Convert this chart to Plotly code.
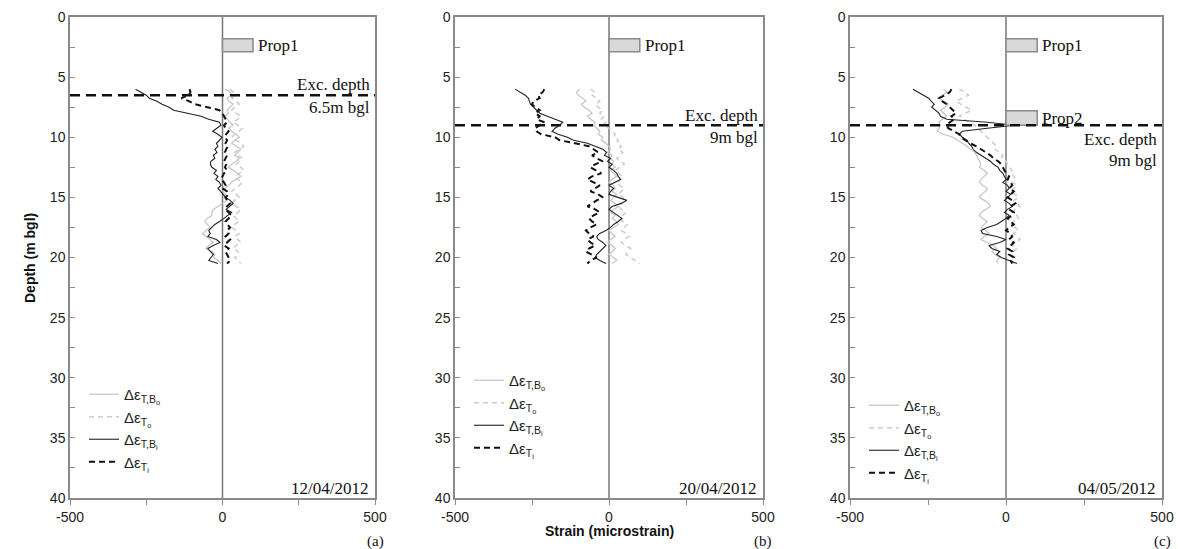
import plotly.graph_objects as go

# ---------------- data ----------------
depth = [6.0, 6.25, 6.5, 6.75, 7.0, 7.25, 7.5, 7.75, 8.0, 8.25, 8.5, 8.75, 9.0, 9.25, 9.5, 9.75,
         10.0, 10.25, 10.5, 10.75, 11.0, 11.25, 11.5, 11.75, 12.0, 12.25, 12.5, 12.75, 13.0, 13.25,
         13.5, 13.75, 14.0, 14.25, 14.5, 14.75, 15.0, 15.25, 15.5, 15.75, 16.0, 16.25, 16.5, 16.75,
         17.0, 17.25, 17.5, 17.75, 18.0, 18.25, 18.5, 18.75, 19.0, 19.25, 19.5, 19.75, 20.0, 20.25, 20.5]

# Panel (a) 12/04/2012
a_TBo = [10, 25, 30, 15, 20, 35, 25, 15, 20, 10, 15, 25, 35, 20, 30, 45,
         55, 40, 30, 45, 60, 50, 40, 55, 45, 30, 20, 35, 50, 60,
         45, 30, 20, 10, 0, 10, 5, 15, 0, -15, -30, -35, -35, -50,
         -58, -50, -40, -55, -65, -55, -40, -30, -45, -55, -35, -25, -30, -15, -5]
a_To = [25, 35, 40, 30, 45, 55, 40, 30, 45, 60, 50, 35, 50, 65, 55, 40,
        30, 45, 60, 70, 55, 40, 50, 65, 55, 45, 60, 70, 55, 40,
        50, 65, 55, 40, 30, 45, 55, 40, 30, 45, 60, 50, 35, 45,
        55, 40, 30, 45, 55, 40, 50, 60, 45, 35, 50, 55, 40, 50, 60]
a_TBi = [-285, -265, -250, -240, -215, -198, -175, -160, -110, -70, -45, -10, -5, -20, -32, -15,
         -2, -10, -20, -15, -25, -18, -30, -25, -38, -40, -35, -20, -28, -15,
         -22, -10, -5, -15, -8, 2, 10, 25, 35, 22, 12, 30, 18, 5,
         -10, -25, -35, -45, -40, -48, -20, -8, -30, -48, -40, -30, -38, -45, -15]
a_Ti = [-108, -105, -110, -135, -110, -90, -50, -10, 0, 5, 10, 15, 5, 10, 20, 12,
        8, 15, 10, 18, 12, 8, 15, 10, 5, 12, 8, 15, 5, 0,
        -5, 5, 10, 0, 15, 20, 10, 15, 25, 15, 10, 20, 30, 20,
        10, 15, 25, 15, 20, 10, 25, 15, 5, 20, 10, 15, 20, 25, 15]

# Panel (b) 20/04/2012
b_TBo = [-95, -105, -100, -85, -75, -90, -80, -65, -55, -70, -60, -45, -50, -40, -30, -35,
         -20, -25, -10, 0, 5, -5, 10, 5, 15, 10, 20, 5, 15, 25,
         10, 0, 15, 20, 10, 25, 15, 5, 20, 30, 15, 5, 20, 10,
         25, 30, 15, 0, 10, 20, 5, -5, 10, 20, 10, 0, 15, 25, 10]
b_To = [-60, -45, -55, -40, -30, -45, -35, -20, -30, -15, -25, -10, -20, 0, 10, 20,
        15, 30, 25, 40, 30, 45, 35, 25, 40, 50, 35, 20, 30, 45,
        40, 25, 35, 50, 40, 30, 45, 55, 40, 30, 40, 55, 45, 35,
        45, 60, 50, 40, 55, 65, 50, 40, 55, 70, 60, 55, 70, 85, 100]
b_TBi = [-305, -290, -272, -262, -258, -255, -245, -235, -225, -200, -175, -150, -160, -175, -185, -165,
         -135, -115, -70, -45, -20, -8, -15, 5, -5, 10, 0, 15, 25, 30,
         38, 20, 0, 15, 5, 0, 30, 58, 40, 10, 0, 15, 30, 42,
         30, 15, 5, -10, -30, -40, -35, -20, -10, -20, -30, -40, -45, -30, -10]
b_Ti = [-210, -215, -230, -225, -245, -250, -240, -225, -240, -225, -235, -210, -225, -240, -235, -220,
        -175, -160, -110, -65, -50, -35, -55, -40, -20, -45, -60, -40, -25, -55,
        -70, -50, -30, -45, -60, -35, -20, -40, -55, -70, -45, -30, -50, -65,
        -55, -40, -60, -75, -65, -50, -70, -60, -45, -65, -75, -55, -40, -60, -70]

# Panel (c) 04/05/2012
c_TBo = [-200, -190, -205, -215, -200, -185, -195, -210, -200, -190, -205, -215, -210, -215, -220, -200,
         -170, -155, -140, -125, -115, -100, -95, -90, -85, -80, -85, -70, -60, -70,
         -80, -85, -75, -60, -65, -80, -85, -70, -55, -50, -65, -80, -85, -75,
         -60, -70, -80, -65, -55, -70, -80, -60, -40, -30, -45, -35, -20, -30, -25]
c_To = [-150, -130, -120, -140, -160, -145, -125, -110, -130, -150, -135, -115, -100, -90, -80, -70,
        -60, -50, -40, -30, -35, -20, -10, -15, 0, 5, 10, 20, 15, 25,
        30, 20, 35, 25, 15, 30, 40, 25, 35, 45, 30, 20, 35, 40,
        25, 15, 30, 40, 25, 35, 45, 30, 20, 35, 25, 15, 30, 20, 25]
c_TBi = [-298, -280, -262, -248, -240, -230, -238, -225, -215, -210, -190, -60, 28, -60, -140, -150,
         -140, -125, -120, -110, -105, -95, -80, -65, -50, -40, -25, -20, -10, -5,
         0, -10, 5, 10, 0, 15, 5, -5, 10, 20, 5, -5, 10, 0,
         -15, -30, -60, -80, -75, -30, 0, -20, -55, -45, -20, -30, -15, 10, 35]
c_Ti = [-175, -180, -195, -215, -205, -190, -180, -170, -160, -175, -165, -180, -190, -185, -165, -150,
        -145, -130, -115, -95, -80, -65, -50, -40, -25, -15, -10, -5, 0, 10,
        5, 15, 20, 10, 25, 15, 5, 20, 30, 15, 10, 25, 20, 5,
        15, 25, 10, 0, 15, 20, 10, 25, 15, 5, 20, 10, 25, 15, 20]

dates = ["12/04/2012", "20/04/2012", "04/05/2012"]
panel_letters = ["(a)", "(b)", "(c)"]
exc_depths = [6.5, 9.0, 9.0]
exc_labels = ["6.5m bgl", "9m bgl", "9m bgl"]
# props per panel: (name, top depth, bottom depth, strain extent)
props = [
    [("Prop1", 1.8, 2.9, 100)],
    [("Prop1", 1.8, 2.9, 100)],
    [("Prop1", 1.8, 2.9, 100), ("Prop2", 7.8, 9.0, 100)],
]
series_names = ["Δε<sub>T,B<sub>o</sub></sub>", "Δε<sub>T<sub>o</sub></sub>",
                "Δε<sub>T,B<sub>i</sub></sub>", "Δε<sub>T<sub>i</sub></sub>"]
panels = [
    [a_TBo, a_To, a_TBi, a_Ti],
    [b_TBo, b_To, b_TBi, b_Ti],
    [c_TBo, c_To, c_TBi, c_Ti],
]
x_ticks = [-500, 0, 500]
y_ticks = [0, 5, 10, 15, 20, 25, 30, 35, 40]

# ---------------- styles ----------------
W, H = 1181, 549
xdom_px = [(70, 375), (455, 763), (850, 1162)]
ydom_px = (17, 498)
styles = [
    dict(color="#c4c4c4", width=1.2, dash="solid"),
    dict(color="#cccccc", width=1.5, dash="5px,4px"),
    dict(color="#222222", width=1.1, dash="solid"),
    dict(color="#111111", width=2.0, dash="6px,4px"),
]
SERIF = "Liberation Serif, Times New Roman, serif"
SANS = "Liberation Sans, Arial, sans-serif"
frame_col = "#8a8a8a"

fig = go.Figure()
legend_pos = [(84 / W, 378), (469 / W, 364), (864 / W, 389)]

for i, series in enumerate(panels):
    xa = "x" if i == 0 else f"x{i+1}"
    ya = "y" if i == 0 else f"y{i+1}"
    lg = "legend" if i == 0 else f"legend{i+1}"
    for s, vals in enumerate(series):
        fig.add_trace(go.Scatter(x=vals, y=depth, mode="lines", name=series_names[s],
                                 line=styles[s], xaxis=xa, yaxis=ya, legend=lg,
                                 showlegend=True))

layout = dict(width=W, height=H, margin=dict(l=0, r=0, t=0, b=0, autoexpand=False),
              plot_bgcolor="white", paper_bgcolor="white", showlegend=True)
shapes = []
annotations = []
y0d = 1 - ydom_px[1] / H
y1d = 1 - ydom_px[0] / H
for i in range(3):
    sx = "" if i == 0 else str(i + 1)
    x0, x1 = xdom_px[i]
    layout["xaxis" + sx] = dict(
        domain=[x0 / W, x1 / W], anchor="y" + sx, range=[-500, 500], automargin=False,
        tickvals=x_ticks, ticktext=[str(v) for v in x_ticks],
        ticks="outside", ticklen=5, tickcolor=frame_col,
        minor=dict(dtick=250, tick0=0, ticks="outside", ticklen=5, tickcolor=frame_col),
        showline=True, linecolor=frame_col, linewidth=1.5, mirror=True,
        showgrid=False, zeroline=False,
        tickfont=dict(family=SANS, size=14, color="#222"))
    layout["yaxis" + sx] = dict(
        domain=[y0d, y1d], anchor="x" + sx, range=[40, 0], automargin=False,
        tickvals=y_ticks, ticktext=[str(v) for v in y_ticks],
        ticks="inside", ticklen=5, tickcolor=frame_col,
        minor=dict(dtick=2.5, tick0=0, ticks="inside", ticklen=5, tickcolor=frame_col),
        showline=True, linecolor=frame_col, linewidth=1.5, mirror=True,
        showgrid=False, zeroline=False,
        tickfont=dict(family=SANS, size=14, color="#222"))
    xr = "x" + sx
    yr = "y" + sx
    # zero line
    shapes.append(dict(type="line", xref=xr, yref=yr + " domain", x0=0, x1=0, y0=0, y1=1,
                       line=dict(color="#777", width=1.5), layer="below"))
    # props
    for (pn, top, bot, ext) in props[i]:
        shapes.append(dict(type="rect", xref=xr, yref=yr, x0=0, x1=ext, y0=top, y1=bot,
                           fillcolor="#d9d9d9", line=dict(color="#8a8a8a", width=1.5)))
        annotations.append(dict(x=ext + 10, y=(top + bot) / 2, xref=xr, yref=yr, text=pn,
                                showarrow=False, xanchor="left", yanchor="middle",
                                font=dict(family=SERIF, size=17, color="#111")))
    # excavation line
    ed = exc_depths[i]
    shapes.append(dict(type="line", xref=xr + " domain", yref=yr, x0=0, x1=1, y0=ed, y1=ed,
                       line=dict(color="#111", width=2.5, dash="10px,6px")))
    if i == 2:
        ys = (ed + 1.2, ed + 2.9)
    else:
        ys = (ed - 0.85, ed + 1.0)
    annotations.append(dict(x=0.99, y=ys[0], xref=xr + " domain", yref=yr, text="Exc. depth",
                            showarrow=False, xanchor="right", yanchor="middle",
                            font=dict(family=SERIF, size=17, color="#111")))
    annotations.append(dict(x=0.99, y=ys[1], xref=xr + " domain", yref=yr, text=exc_labels[i],
                            showarrow=False, xanchor="right", yanchor="middle",
                            font=dict(family=SERIF, size=17, color="#111")))
    # date
    annotations.append(dict(x=0.985, y=39.2, xref=xr + " domain", yref=yr, text=dates[i],
                            showarrow=False, xanchor="right", yanchor="middle",
                            font=dict(family=SERIF, size=17, color="#111")))
    # panel letter
    annotations.append(dict(x=x1 / W, y=1 - 541 / H, xref="paper", yref="paper",
                            text=panel_letters[i], showarrow=False, xanchor="center",
                            yanchor="middle", font=dict(family=SERIF, size=15, color="#111")))
    # legends
    lx, ly = legend_pos[i]
    layout["legend" if i == 0 else f"legend{i+1}"] = dict(
        x=lx, y=1 - ly / H, xanchor="left", yanchor="top", bgcolor="rgba(0,0,0,0)",
        font=dict(family=SANS, size=15, color="#222"), itemwidth=30,
        tracegroupgap=0, borderwidth=0)

annotations.append(dict(x=20 / W, y=1 - 258 / H, xref="paper", yref="paper",
                        text="<b>Depth (m bgl)</b>", textangle=-90, showarrow=False,
                        font=dict(family=SANS, size=14, color="#111")))
annotations.append(dict(x=609 / W, y=1 - 541 / H, xref="paper", yref="paper",
                        text="<b>Strain (microstrain)</b>", showarrow=False,
                        font=dict(family=SANS, size=14, color="#111")))
layout["shapes"] = shapes
layout["annotations"] = annotations
fig.update_layout(**layout)
fig.write_html("out.html", config={"displayModeBar": False},
               post_script="document.body.style.margin='0px';document.body.style.overflow='hidden';")
